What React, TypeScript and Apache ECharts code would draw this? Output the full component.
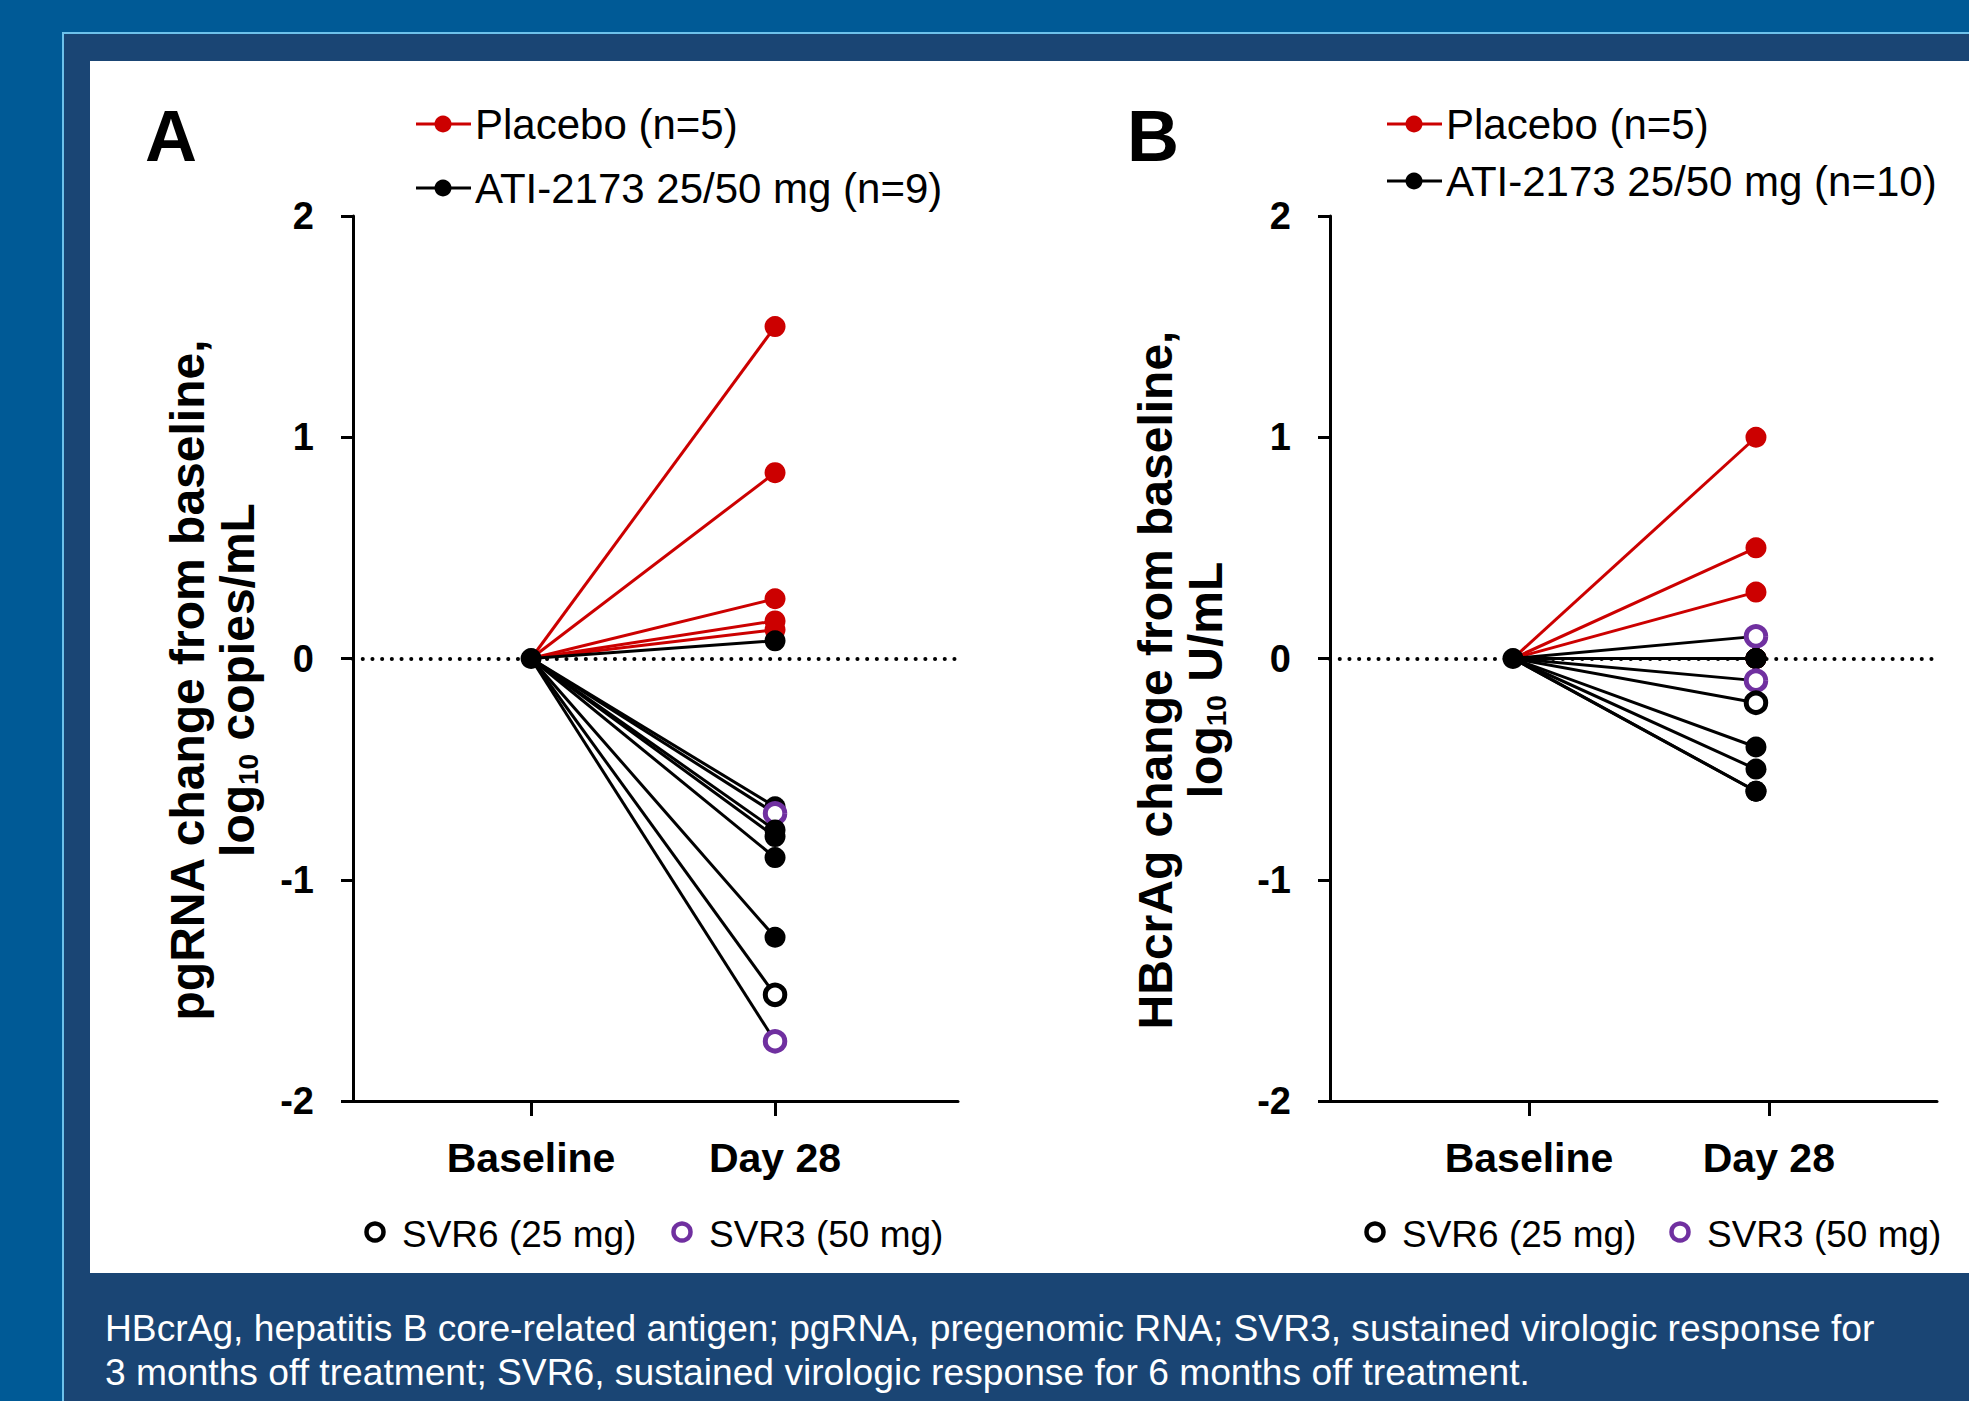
import React, { useEffect, useRef } from "react";
import * as echarts from "echarts";

// ---------------- data ----------------
const timepointLabels = ["Baseline", "Day 28"];
const yTickValues = [-2, -1, 0, 1, 2];

// Panel A: pgRNA change from baseline (log10 copies/mL) at Day 28
const placeboA = [1.5, 0.84, 0.27, 0.17, 0.13];
const atiA = [0.08, -0.67, -0.7, -0.775, -0.805, -0.9, -1.26, -1.52, -1.73];
const atiAKind = ["f", "f", "s3", "f", "f", "f", "f", "s6", "s3"];

// Panel B: HBcrAg change from baseline (log10 U/mL) at Day 28
const placeboB = [1.0, 0.5, 0.3, 0.0, 0.0];
const atiB = [0.1, 0.0, 0.0, 0.0, -0.1, -0.2, -0.4, -0.5, -0.6, -0.6];
const atiBKind = ["s3", "f", "f", "f", "s3", "s6", "f", "f", "f", "f"];

const legendA = ["Placebo (n=5)", "ATI-2173 25/50 mg (n=9)"];
const legendB = ["Placebo (n=5)", "ATI-2173 25/50 mg (n=10)"];
const svrLabels = ["SVR6 (25 mg)", "SVR3 (50 mg)"];
const footnote = [
  "HBcrAg, hepatitis B core-related antigen; pgRNA, pregenomic RNA; SVR3, sustained virologic response for",
  "3 months off treatment; SVR6, sustained virologic response for 6 months off treatment.",
];

// ---------------- styles ----------------
const FONT = "Liberation Sans, Arial, Helvetica, sans-serif";
const RED = "#CC0000";
const BLACK = "#000000";
const PURPLE = "#7030A0";
const OUTER_BG = "#005A96";
const NAVY = "#1A4574";
const BORDER = "#6EC1EA";

function dayItem(v: number, kind: string, lineColor: string) {
  if (kind === "s3" || kind === "s6") {
    return {
      value: [1, v],
      symbol: "circle",
      symbolSize: 19.5,
      itemStyle: {
        color: "#ffffff",
        borderColor: kind === "s3" ? PURPLE : BLACK,
        borderWidth: 5,
        opacity: 1,
      },
    };
  }
  return { value: [1, v], symbol: "circle", symbolSize: 21, itemStyle: { color: lineColor, opacity: 1 } };
}

function subjectSeries(values: number[], kinds: string[] | null, color: string, axisIndex: number) {
  return values.map((v, i) => ({
    type: "line",
    xAxisIndex: axisIndex,
    yAxisIndex: axisIndex,
    silent: true,
    showSymbol: true,
    lineStyle: { color, width: 3 },
    itemStyle: { color },
    data: [
      { value: [0, 0], symbol: "none" },
      dayItem(v, kinds ? kinds[i] : "f", color),
    ],
    z: 3,
  }));
}

function makeXAxis(gridIndex: number, min: number, max: number, ticks: number[]) {
  const fmt = (val: number) =>
    Math.abs(val - ticks[0]) < Math.abs(val - ticks[1]) ? timepointLabels[0] : timepointLabels[1];
  return {
    type: "value",
    gridIndex,
    min,
    max,
    splitLine: { show: false },
    axisLine: { show: true, onZero: false, lineStyle: { color: BLACK, width: 3 } },
    axisTick: { show: true, inside: false, length: 15, lineStyle: { color: BLACK, width: 3 }, customValues: ticks },
    axisLabel: {
      show: true,
      customValues: ticks,
      formatter: fmt,
      margin: 36,
      fontSize: 41,
      fontWeight: "bold",
      fontFamily: FONT,
      color: BLACK,
    },
  };
}

function makeYAxis(gridIndex: number) {
  return {
    type: "value",
    gridIndex,
    min: yTickValues[0],
    max: yTickValues[yTickValues.length - 1],
    interval: 1,
    splitLine: { show: false },
    axisLine: { show: true, onZero: false, lineStyle: { color: BLACK, width: 3 } },
    axisTick: { show: true, inside: false, length: 12, lineStyle: { color: BLACK, width: 3 } },
    axisLabel: {
      show: true,
      margin: 39,
      fontSize: 38,
      fontWeight: "bold",
      fontFamily: FONT,
      color: BLACK,
      showMinLabel: true,
      showMaxLabel: true,
    },
  };
}

function zeroLine(axisIndex: number) {
  return {
    type: "line",
    xAxisIndex: axisIndex,
    yAxisIndex: axisIndex,
    data: [],
    silent: true,
    z: 2,
    markLine: {
      silent: true,
      symbol: "none",
      label: { show: false },
      lineStyle: { color: BLACK, width: 4, type: [0.1, 9.6], cap: "round", opacity: 1 },
      data: [{ yAxis: 0 }],
    },
  };
}

function baselinePoint(axisIndex: number) {
  return {
    type: "scatter",
    xAxisIndex: axisIndex,
    yAxisIndex: axisIndex,
    silent: true,
    symbol: "circle",
    symbolSize: 21,
    itemStyle: { color: BLACK, opacity: 1 },
    data: [[0, 0]],
    z: 10,
  };
}

function legendGraphic(x0: number, rows: number[], labels: string[]) {
  const colors = [RED, BLACK];
  const out: any[] = [];
  labels.forEach((lab, i) => {
    const y = rows[i];
    out.push({
      type: "line",
      shape: { x1: x0, y1: y, x2: x0 + 55, y2: y },
      style: { stroke: colors[i], lineWidth: 3 },
      silent: true,
    });
    out.push({
      type: "circle",
      shape: { cx: x0 + 27, cy: y, r: 8.5 },
      style: { fill: colors[i] },
      silent: true,
    });
    out.push({
      type: "text",
      x: x0 + 59,
      y,
      style: {
        text: lab,
        fontSize: 42,
        fontFamily: FONT,
        fill: BLACK,
        align: "left",
        verticalAlign: "middle",
      },
      silent: true,
    });
  });
  return out;
}

function svrGraphic(xs: number[], y: number) {
  const strokes = [BLACK, PURPLE];
  const out: any[] = [];
  svrLabels.forEach((lab, i) => {
    out.push({
      type: "circle",
      shape: { cx: xs[i], cy: y, r: 8.5 },
      style: { fill: "#ffffff", stroke: strokes[i], lineWidth: 4.5 },
      silent: true,
    });
    out.push({
      type: "text",
      x: xs[i] + 27,
      y: y + 2,
      style: {
        text: lab,
        fontSize: 37,
        fontFamily: FONT,
        fill: BLACK,
        align: "left",
        verticalAlign: "middle",
      },
      silent: true,
    });
  });
  return out;
}

function yTitle(x: number, y: number, line1: string, unit: string) {
  return {
    type: "text",
    x,
    y,
    rotation: Math.PI / 2,
    silent: true,
    style: {
      text: `{a|${line1}}\n{a|log}{s|10}{a| ${unit}}`,
      align: "center",
      verticalAlign: "middle",
      fill: BLACK,
      rich: {
        a: { fontSize: 48, fontWeight: "bold", fontFamily: FONT, lineHeight: 50, fill: BLACK },
        s: {
          fontSize: 28,
          fontWeight: "bold",
          fontFamily: FONT,
          lineHeight: 28,
          verticalAlign: "bottom",
          fill: BLACK,
        },
      },
    },
  };
}

export default function App() {
  const ref = useRef<HTMLDivElement>(null);

  useEffect(() => {
    if (!ref.current) return;
    const chart = echarts.init(ref.current, undefined, { renderer: "svg" });

    const graphics: any[] = [
      {
        type: "rect",
        z: -100,
        silent: true,
        shape: { x: 63, y: 33, width: 1960, height: 1420 },
        style: { fill: NAVY, stroke: BORDER, lineWidth: 2 },
      },
      {
        type: "rect",
        z: -99,
        silent: true,
        shape: { x: 90, y: 61, width: 1900, height: 1212 },
        style: { fill: "#ffffff" },
      },
      {
        type: "text",
        x: 171,
        y: 136,
        silent: true,
        style: { text: "A", fontSize: 72, fontWeight: "bold", fontFamily: FONT, fill: BLACK, align: "center", verticalAlign: "middle" },
      },
      {
        type: "text",
        x: 1153,
        y: 136,
        silent: true,
        style: { text: "B", fontSize: 72, fontWeight: "bold", fontFamily: FONT, fill: BLACK, align: "center", verticalAlign: "middle" },
      },
      ...legendGraphic(416, [124, 188], legendA),
      ...legendGraphic(1387, [124, 181], legendB),
      yTitle(212, 680, "pgRNA change from baseline,", "copies/mL"),
      yTitle(1180, 680, "HBcrAg change from baseline,", "U/mL"),
      ...svrGraphic([375, 682], 1232),
      ...svrGraphic([1375, 1680], 1232),
      ...footnote.map((t, i) => ({
        type: "text",
        x: 105,
        y: 1328 + i * 44,
        silent: true,
        style: { text: t, fontSize: 37.2, fontFamily: FONT, fill: "#ffffff", align: "left", verticalAlign: "middle" },
      })),
    ];

    const option: any = {
      animation: false,
      backgroundColor: OUTER_BG,
      grid: [
        { left: 353, right: 1011, top: 216, bottom: 300, outerBoundsMode: "none" },
        { left: 1330, right: 32, top: 216, bottom: 300, outerBoundsMode: "none" },
      ],
      xAxis: [makeXAxis(0, -0.73, 1.75, [0, 1]), makeXAxis(1, -0.753, 1.745, [0.066, 1.053])],
      yAxis: [makeYAxis(0), makeYAxis(1)],
      graphic: graphics,
      series: [
        zeroLine(0),
        zeroLine(1),
        ...subjectSeries(placeboA, null, RED, 0),
        ...subjectSeries(atiA, atiAKind, BLACK, 0),
        ...subjectSeries(placeboB, null, RED, 1),
        ...subjectSeries(atiB, atiBKind, BLACK, 1),
        baselinePoint(0),
        baselinePoint(1),
      ],
    };

    chart.setOption(option);
    return () => chart.dispose();
  }, []);

  return (
    <div
      ref={ref}
      style={{ position: "absolute", left: 0, top: 0, width: 1969, height: 1401 }}
    />
  );
}
